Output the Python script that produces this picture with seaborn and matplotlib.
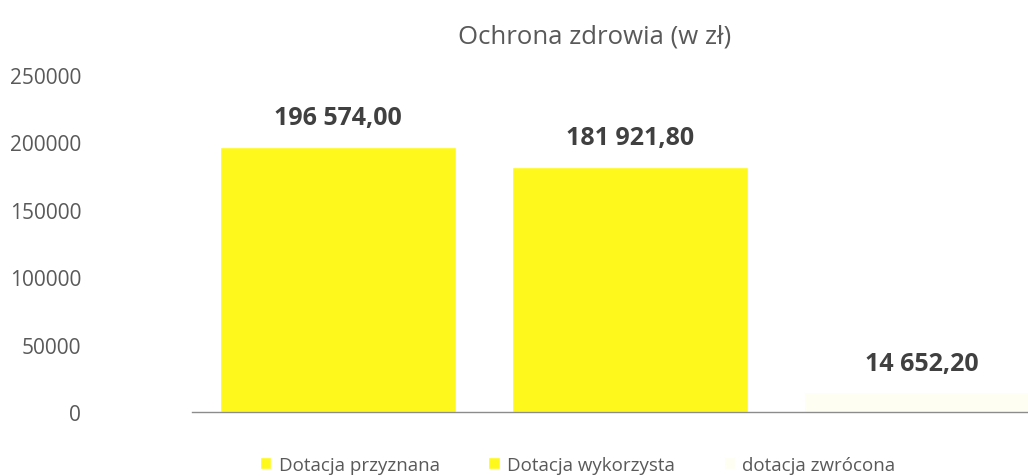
import matplotlib
matplotlib.use("Agg")
import matplotlib.pyplot as plt
import seaborn as sns
import pandas as pd

title = "Ochrona zdrowia (w zł)"
categories = ["Dotacja przyznana", "Dotacja wykorzysta", "dotacja zwrócona"]
values = [196574.00, 181921.80, 14652.20]
colors = ["#FFF81C", "#FFF81C", "#FEFEF2"]
yticks = [0, 50000, 100000, 150000, 200000, 250000]


def fmt_pl(v):
    s = f"{v:,.2f}"
    return s.replace(",", " ").replace(".", ",")


def main():
    sns.set_theme(style="white")
    plt.rcParams["font.family"] = ["Open Sans", "DejaVu Sans"]

    df = pd.DataFrame({"cat": categories, "val": values})
    fig = plt.figure(figsize=(10.28, 4.77), dpi=100)
    ax = fig.add_axes([0.187, 0.134, 0.813, 0.707])

    sns.barplot(data=df, x="cat", y="val", hue="cat", palette=colors,
                width=0.81, dodge=False, legend=True, ax=ax, saturation=1)

    ax.set_xlim(-0.5, 2.363)
    ax.set_ylim(0, 250000)
    ax.set_yticks(yticks)
    ax.set_yticklabels([str(t) for t in yticks])
    ax.tick_params(axis="y", labelsize=15, colors="#595959", length=0, pad=80)
    for lab in ax.get_yticklabels():
        lab.set_horizontalalignment("right")
    ax.set_xticks([])
    ax.set_xlabel("")
    ax.set_ylabel("")
    for side in ["top", "right", "left"]:
        ax.spines[side].set_visible(False)
    ax.spines["bottom"].set_color("#8c8c8c")
    ax.spines["bottom"].set_linewidth(1)

    for cont in ax.containers:
        ax.bar_label(cont, labels=[fmt_pl(b.get_height()) for b in cont],
                     padding=12, fontsize=18, fontweight="bold", color="#404040")

    handles, labels = ax.get_legend_handles_labels()
    ax.legend_.remove()
    fig.legend(handles, labels, loc="center", bbox_to_anchor=(0.562, 0.023),
               ncol=3, frameon=False, fontsize=13.5, handlelength=0.6,
               handleheight=0.6, handletextpad=0.4, columnspacing=2.6,
               labelcolor="#595959")

    fig.text(0.578, 0.922, title, ha="center", va="center", fontsize=18.5,
             color="#595959")

    fig.savefig("out.png", dpi=100)


if __name__ == "__main__":
    main()
